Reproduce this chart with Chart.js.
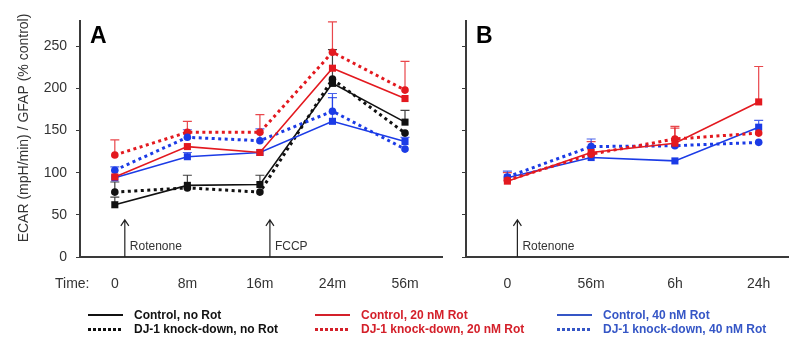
<!DOCTYPE html>
<html>
<head>
<meta charset="utf-8">
<script src="https://cdn.jsdelivr.net/npm/chart.js@4.4.1/dist/chart.umd.min.js"></script>
<style>
  body { margin: 0; background: #fff; font-family: "Liberation Sans", Arial, sans-serif; }
  #wrap { position: relative; width: 793px; height: 339px; overflow: hidden; }
  .panel { position: absolute; top: 0; height: 300px; }
  #legend { position: absolute; left: 0; top: 0; width: 793px; height: 339px; pointer-events: none; }
  .item { position: absolute; height: 14px; display: flex; align-items: center; font-size: 12px; font-weight: bold; white-space: nowrap; }
  .swatch { width: 35px; height: 2px; margin-right: 11px; }
  .swatch.dot { height: 3px; }
</style>
</head>
<body>
<div id="wrap">
  <div class="panel" style="left:0;width:450px"><canvas id="chartA"></canvas></div>
  <div class="panel" style="left:450px;width:343px"><canvas id="chartB"></canvas></div>
  <div id="legend"></div>
</div>
<script>
// time points
const labelsA = ['0', '8m', '16m', '24m', '56m'];
const labelsB = ['0', '56m', '6h', '24h'];
const yTicks = [0, 50, 100, 150, 200, 250];

// panel A values (% control)
const ctrlNoRot = [62, 85, 86, 206, 160];
const ctrlNoRotErr = [9, 12, 11, 40, 14];
const kdNoRot = [77, 82, 77, 211, 147];
const kdNoRotErr = [12, null, null, null, null];
const ctrl20A = [95, 131, 124, 224, 188];
const ctrl20AErr = [null, null, null, null, null];
const kd20A = [121, 148, 148, 243, 198];
const kd20AErr = [18, 13, 21, 36, 34];
const ctrl40A = [94, 119, 124, 161, 137];
const ctrl40AErr = [null, 5, null, 28, 5];
const kd40A = [103, 142, 138, 173, 128];
const kd40AErr = [4, 9, 14, 21, null];

// panel B values
const ctrl20B = [90, 124, 135, 184];
const ctrl20BErr = [10, 13, 18, 42];
const kd20B = [91, 122, 140, 147];
const kd20BErr = [null, null, 15, null];
const ctrl40B = [94, 118, 114, 154];
const ctrl40BErr = [null, null, null, 8];
const kd40B = [95, 131, 132, 136];
const kd40BErr = [7, 9, null, null];

const seriesNames = [
  'Control, no Rot', 'DJ-1 knock-down, no Rot',
  'Control, 20 nM Rot', 'DJ-1 knock-down, 20 nM Rot',
  'Control, 40 nM Rot', 'DJ-1 knock-down, 40 nM Rot'
];

const BLACK = '#111111';
const RED = '#e3191f';
const BLUE = '#1b3be6';
const AXIS = '#3a3a3a';
const FONT = '"Liberation Sans", Arial, sans-serif';

function ds(name, values, errs, color, dotted) {
  return {
    label: name,
    data: values.map((v, i) => ({ x: i, y: v })),
    errs: errs,
    borderColor: color,
    backgroundColor: color,
    borderWidth: dotted ? 3 : 1.6,
    borderDash: dotted ? [3, 3.5] : [],
    pointStyle: dotted ? 'circle' : 'rect',
    pointRadius: dotted ? 3.8 : 5,
    pointBorderWidth: 0,
    tension: 0
  };
}

// upward error bars
const errorBars = {
  id: 'errorBars',
  beforeDatasetsDraw(chart) {
    const ctx = chart.ctx;
    const y = chart.scales.y;
    chart.data.datasets.forEach((d, di) => {
      const meta = chart.getDatasetMeta(di);
      ctx.save();
      ctx.strokeStyle = d.borderColor;
      ctx.globalAlpha = 0.8;
      ctx.lineWidth = 1.2;
      d.data.forEach((p, i) => {
        const e = d.errs[i];
        if (e == null) return;
        const px = meta.data[i].x;
        const y0 = y.getPixelForValue(p.y);
        const y1 = y.getPixelForValue(p.y + e);
        ctx.beginPath();
        ctx.moveTo(px, y0);
        ctx.lineTo(px, y1);
        ctx.moveTo(px - 4.5, y1);
        ctx.lineTo(px + 4.5, y1);
        ctx.stroke();
      });
      ctx.restore();
    });
  }
};

// panel letter, treatment arrows, axis title, row caption
const annotations = {
  id: 'annotations',
  afterDraw(chart, args, opts) {
    const ctx = chart.ctx;
    const x = chart.scales.x, y = chart.scales.y;
    ctx.save();
    ctx.fillStyle = '#000';
    ctx.font = 'bold 23px ' + FONT;
    ctx.textBaseline = 'alphabetic';
    ctx.fillText(opts.letter, chart.chartArea.left + 10, 43);
    ctx.strokeStyle = '#222';
    ctx.lineWidth = 1.2;
    ctx.font = '12px ' + FONT;
    ctx.fillStyle = '#333';
    (opts.arrows || []).forEach(a => {
      const ax = x.getPixelForValue(a.at) + 10;
      const yb = y.getPixelForValue(0);
      const yt = y.getPixelForValue(44);
      ctx.beginPath();
      ctx.moveTo(ax, yb);
      ctx.lineTo(ax, yt);
      ctx.moveTo(ax - 4, yt + 6);
      ctx.lineTo(ax, yt);
      ctx.lineTo(ax + 4, yt + 6);
      ctx.stroke();
      ctx.textBaseline = 'middle';
      ctx.fillText(a.text, ax + 5, y.getPixelForValue(12));
    });
    if (opts.caption) {
      ctx.font = '14px ' + FONT;
      ctx.textBaseline = 'middle';
      ctx.fillText(opts.caption, 55, 284);
    }
    if (opts.yTitle) {
      ctx.translate(24, 128);
      ctx.rotate(-Math.PI / 2);
      ctx.font = '14px ' + FONT;
      ctx.textAlign = 'center';
      ctx.textBaseline = 'middle';
      ctx.fillText(opts.yTitle, 0, 0);
    }
    ctx.restore();
  }
};

function makeChart(id, labels, datasets, opts) {
  return new Chart(document.getElementById(id), {
    type: 'line',
    data: { datasets: datasets },
    plugins: [errorBars, annotations],
    options: {
      responsive: true,
      maintainAspectRatio: false,
      animation: false,
      layout: { padding: { top: 21, right: opts.padRight, left: 0, bottom: 0 } },
      plugins: {
        legend: { display: false },
        tooltip: { enabled: false },
        annotations: { letter: opts.letter, arrows: opts.arrows, caption: opts.caption, yTitle: opts.yTitle }
      },
      scales: {
        x: {
          type: 'linear',
          min: opts.xMin,
          max: opts.xMax,
          afterBuildTicks: s => { s.ticks = labels.map((_, i) => ({ value: i })); },
          afterFit: s => { s.height = 43; },
          grid: { display: false, drawTicks: false },
          border: { display: true, color: AXIS, width: 2 },
          ticks: {
            callback: v => labels[v],
            padding: 19,
            color: '#333',
            font: { family: FONT, size: 14 },
            maxRotation: 0,
            autoSkip: false
          }
        },
        y: {
          min: 0,
          max: 280,
          afterBuildTicks: s => { s.ticks = yTicks.map(v => ({ value: v })); },
          afterFit: s => { s.width = opts.yWidth; },
          grid: { drawOnChartArea: false, drawTicks: true, tickLength: 4, color: AXIS },
          border: { display: true, color: AXIS, width: 2 },
          ticks: {
            display: opts.showY,
            padding: 9,
            color: '#333',
            font: { family: FONT, size: 14 }
          }
        }
      }
    }
  });
}

makeChart('chartA', labelsA, [
  ds(seriesNames[2], ctrl20A, ctrl20AErr, RED, false),
  ds(seriesNames[4], ctrl40A, ctrl40AErr, BLUE, false),
  ds(seriesNames[5], kd40A, kd40AErr, BLUE, true),
  ds(seriesNames[3], kd20A, kd20AErr, RED, true),
  ds(seriesNames[0], ctrlNoRot, ctrlNoRotErr, BLACK, false),
  ds(seriesNames[1], kdNoRot, kdNoRotErr, BLACK, true)
], {
  letter: 'A', caption: 'Time:', showY: true, yWidth: 80, padRight: 8,
  yTitle: 'ECAR (mpH/min) / GFAP (% control)',
  xMin: -0.48, xMax: 4.51,
  arrows: [{ at: 0, text: 'Rotenone' }, { at: 2, text: 'FCCP' }]
});

makeChart('chartB', labelsB, [
  ds(seriesNames[2], ctrl20B, ctrl20BErr, RED, false),
  ds(seriesNames[3], kd20B, kd20BErr, RED, true),
  ds(seriesNames[4], ctrl40B, ctrl40BErr, BLUE, false),
  ds(seriesNames[5], kd40B, kd40BErr, BLUE, true)
], {
  letter: 'B', caption: null, showY: false, yWidth: 16, padRight: 0,
  yTitle: null,
  xMin: -0.494, xMax: 3.35,
  arrows: [{ at: 0, text: 'Rotenone' }]
});

// legend (three columns, two rows)
const legendCols = [88, 315, 557];
const legendRows = [315, 329];
const legendText = ['#111111', '#d4202a', '#3556c6'];
const legend = document.getElementById('legend');
seriesNames.forEach((name, i) => {
  const col = Math.floor(i / 2), row = i % 2;
  const c = legendText[col];
  const item = document.createElement('div');
  item.className = 'item';
  item.style.left = legendCols[col] + 'px';
  item.style.top = (legendRows[row] - 7) + 'px';
  item.style.color = c;
  const sw = document.createElement('span');
  sw.className = 'swatch' + (row ? ' dot' : '');
  sw.style.background = row
    ? 'repeating-linear-gradient(to right, ' + c + ' 0 3px, transparent 3px 5px)'
    : c;
  item.appendChild(sw);
  item.appendChild(document.createTextNode(name));
  legend.appendChild(item);
});
</script>
</body>
</html>
